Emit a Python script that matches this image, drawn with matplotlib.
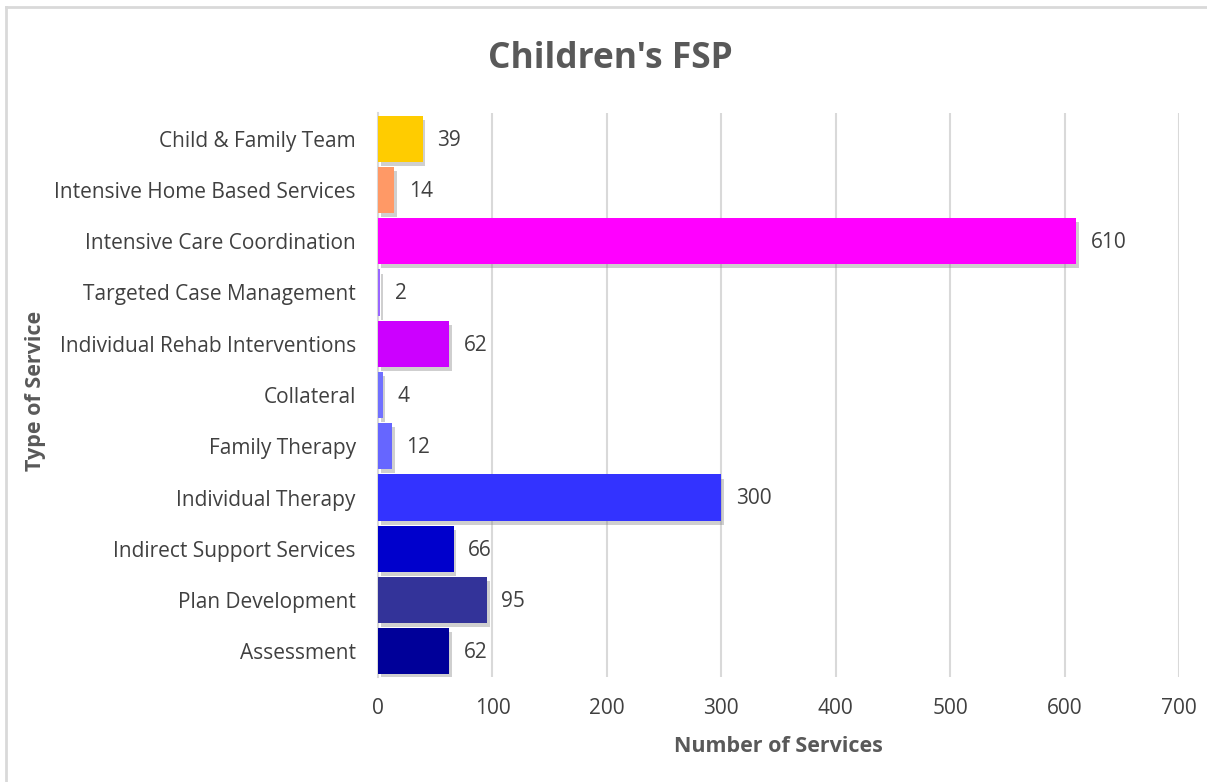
import matplotlib.pyplot as plt
import matplotlib.patheffects as pe
from matplotlib.lines import Line2D

# Service counts for the Children's FSP program (top to bottom)
services = [
    "Child & Family Team",
    "Intensive Home Based Services",
    "Intensive Care Coordination",
    "Targeted Case Management",
    "Individual Rehab Interventions",
    "Collateral",
    "Family Therapy",
    "Individual Therapy",
    "Indirect Support Services",
    "Plan Development",
    "Assessment",
]
counts = [39, 14, 610, 2, 62, 4, 12, 300, 66, 95, 62]
bar_colors = ["#FFCC00", "#FF9966", "#FF00FF", "#9966FF", "#CC00FF", "#7070FF",
              "#6666FF", "#3333FF", "#0000CC", "#333399", "#000099"]
x_ticks = [0, 100, 200, 300, 400, 500, 600, 700]

plt.rcParams['font.family'] = ['Open Sans', 'DejaVu Sans']

fig = plt.figure(figsize=(12.07, 7.82), dpi=100)
ax = fig.add_axes([0.3132, 0.1343, 0.6636, 0.7212])

# grey frame edges (top and left) of the chart area
fig.add_artist(Line2D([0.005, 1.0], [0.991, 0.991], transform=fig.transFigure,
                      color="#D9D9D9", linewidth=2))
fig.add_artist(Line2D([0.005, 0.005], [0.0, 0.991], transform=fig.transFigure,
                      color="#D9D9D9", linewidth=2))

pos = list(range(len(services)))
bars = ax.barh(pos, counts, height=0.9, color=bar_colors, zorder=3)
for b in bars:
    b.set_path_effects([pe.SimplePatchShadow(offset=(2, -3), shadow_rgbFace="#888888", alpha=0.4),
                        pe.Normal()])

for p, v in zip(pos, counts):
    ax.annotate(str(v), (v, p), xytext=(10.5, -1), textcoords="offset points",
                va="center", ha="left", fontsize=15, color="#404040")

ax.set_ylim(len(services) - 0.5, -0.5)
ax.set_xlim(0, 700)
ax.set_xticks(x_ticks)
ax.set_yticks(pos)
ax.set_yticklabels(services)
ax.tick_params(axis="both", length=0, labelsize=15, labelcolor="#404040")
ax.tick_params(axis="x", pad=15)
ax.tick_params(axis="y", pad=16)

ax.grid(axis="x", color="#D9D9D9", linewidth=1.5, zorder=0)
for side in ["top", "right", "bottom"]:
    ax.spines[side].set_visible(False)
ax.spines["left"].set_color("#D9D9D9")
ax.spines["left"].set_linewidth(1.5)

ax.set_xlabel("Number of Services", fontsize=15.5, fontweight="bold", color="#595959", labelpad=12.5)
fig.text(0.029, 0.5, "Type of Service", rotation=90, va="center", ha="center",
         fontsize=15.5, fontweight="bold", color="#595959")
fig.text(0.506, 0.925, "Children's FSP", ha="center", va="center",
         fontsize=25.5, fontweight="bold", color="#595959")

fig.savefig("out.png", dpi=100, facecolor="white")
